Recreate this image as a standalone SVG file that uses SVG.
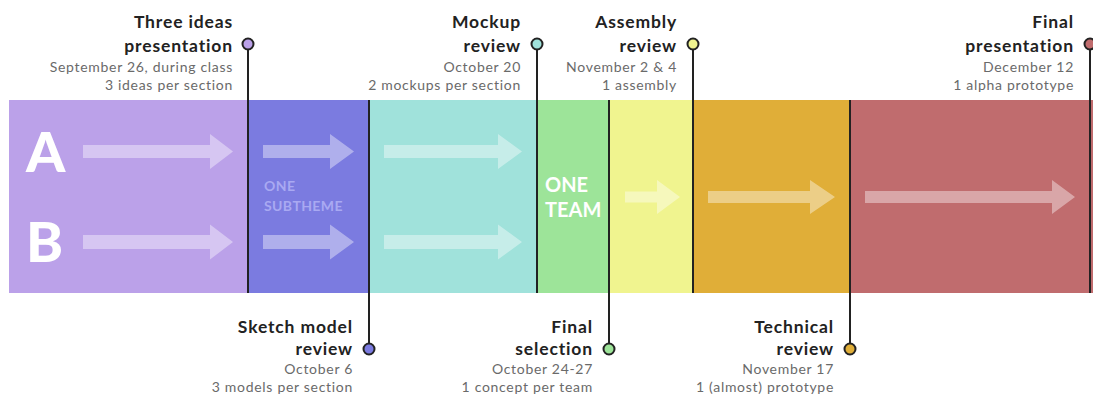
<svg xmlns="http://www.w3.org/2000/svg" width="1093" height="396" viewBox="0 0 1093 396">
<style>
.t{font-family:Lato,"Liberation Sans",sans-serif;font-weight:bold;font-size:17.5px;letter-spacing:0.85px;fill:#222;text-anchor:end}
.s{font-family:Lato,"Liberation Sans",sans-serif;font-size:14px;letter-spacing:0.7px;fill:#6a6a6a;text-anchor:end}
.big{font-family:Lato,"Liberation Sans",sans-serif;font-weight:900;font-size:56px;fill:#fff}
.ar{fill:#fff;fill-opacity:0.4}
.ln{stroke:#222;stroke-width:2;fill:none}
.dot{stroke:#222;stroke-width:2}
</style>
<g id="band">
<rect x="9" y="100" width="239" height="193" fill="#BBA1E9"/>
<rect x="248" y="100" width="121" height="193" fill="#7B7BE0"/>
<rect x="369" y="100" width="168" height="193" fill="#A0E2DB"/>
<rect x="537" y="100" width="72" height="193" fill="#9DE499"/>
<rect x="609" y="100" width="84" height="193" fill="#F0F48F"/>
<rect x="693" y="100" width="157" height="193" fill="#E0AE38"/>
<rect x="850" y="100" width="243" height="193" fill="#C06C6E"/>
</g>
<g id="band-content">
<text class="big" x="26" y="172">A</text>
<text class="big" x="26" y="262">B</text>
<path class="ar" d="M83,145 H210 V134 L233,151.5 L210,169 V158 H83Z"/>
<path class="ar" d="M83,235 H210 V224.5 L233,242 L210,259.5 V249 H83Z"/>
<path class="ar" d="M263,145 H330 V134 L354,151.5 L330,169 V158 H263Z"/>
<path class="ar" d="M263,235 H330 V224.5 L354,242 L330,259.5 V249 H263Z"/>
<path class="ar" d="M384,145 H498 V134 L522,151.5 L498,169 V158 H384Z"/>
<path class="ar" d="M384,235 H498 V224.5 L522,242 L498,259.5 V249 H384Z"/>
<path class="ar" d="M625,191.5 H657 V180 L680,197 L657,214 V202.5 H625Z"/>
<path class="ar" d="M708,191 H810 V180 L835,197 L810,214 V203 H708Z"/>
<path class="ar" d="M865,191 H1052 V180 L1075,197 L1052,214 V203 H865Z"/>
<text x="264" y="191" font-family="Lato,'Liberation Sans',sans-serif" font-weight="bold" font-size="14" letter-spacing="0.4" fill="#A9A9F2">ONE</text>
<text x="264" y="211" font-family="Lato,'Liberation Sans',sans-serif" font-weight="bold" font-size="14" letter-spacing="0.4" fill="#A9A9F2">SUBTHEME</text>
<text x="545" y="192" font-family="Lato,'Liberation Sans',sans-serif" font-weight="bold" font-size="20" fill="#fff">ONE</text>
<text x="545" y="217" font-family="Lato,'Liberation Sans',sans-serif" font-weight="bold" font-size="20" fill="#fff">TEAM</text>
</g>
<g id="connectors">
<line class="ln" x1="248" y1="50" x2="248" y2="293"/>
<line class="ln" x1="369" y1="100" x2="369" y2="343"/>
<line class="ln" x1="537" y1="50" x2="537" y2="293"/>
<line class="ln" x1="609" y1="100" x2="609" y2="343"/>
<line class="ln" x1="693" y1="50" x2="693" y2="293"/>
<line class="ln" x1="850" y1="100" x2="850" y2="343"/>
<line class="ln" x1="1090" y1="50" x2="1090" y2="293"/>
</g>
<g id="m-three-ideas">
<circle class="dot" cx="248" cy="44" r="5.5" fill="#BBA1E9"/>
<text class="t" x="233" y="28">Three ideas</text>
<text class="t" x="233" y="52">presentation</text>
<text class="s" x="233" y="72">September 26, during class</text>
<text class="s" x="233" y="90">3 ideas per section</text>
</g>
<g id="m-mockup">
<circle class="dot" cx="537" cy="44" r="5.5" fill="#A0E2DB"/>
<text class="t" x="521" y="28">Mockup</text>
<text class="t" x="521" y="52">review</text>
<text class="s" x="521" y="72">October 20</text>
<text class="s" x="521" y="90">2 mockups per section</text>
</g>
<g id="m-assembly">
<circle class="dot" cx="693" cy="44" r="5.5" fill="#F0F48F"/>
<text class="t" x="677" y="28">Assembly</text>
<text class="t" x="677" y="52">review</text>
<text class="s" x="677" y="72">November 2 &amp; 4</text>
<text class="s" x="677" y="90">1 assembly</text>
</g>
<g id="m-final-presentation">
<circle class="dot" cx="1090" cy="44" r="5.5" fill="#C06C6E"/>
<text class="t" x="1074" y="28">Final</text>
<text class="t" x="1074" y="52">presentation</text>
<text class="s" x="1074" y="72">December 12</text>
<text class="s" x="1074" y="90">1 alpha prototype</text>
</g>
<g id="m-sketch">
<circle class="dot" cx="369" cy="349" r="5.5" fill="#7B7BE0"/>
<text class="t" x="353" y="333">Sketch model</text>
<text class="t" x="353" y="355">review</text>
<text class="s" x="353" y="374">October 6</text>
<text class="s" x="353" y="392">3 models per section</text>
</g>
<g id="m-final-selection">
<circle class="dot" cx="609" cy="349" r="5.5" fill="#9DE499"/>
<text class="t" x="593" y="333">Final</text>
<text class="t" x="593" y="355">selection</text>
<text class="s" x="593" y="374">October 24-27</text>
<text class="s" x="593" y="392">1 concept per team</text>
</g>
<g id="m-technical">
<circle class="dot" cx="850" cy="349" r="5.5" fill="#E0AE38"/>
<text class="t" x="834" y="333">Technical</text>
<text class="t" x="834" y="355">review</text>
<text class="s" x="834" y="374">November 17</text>
<text class="s" x="834" y="392">1 (almost) prototype</text>
</g>
</svg>
